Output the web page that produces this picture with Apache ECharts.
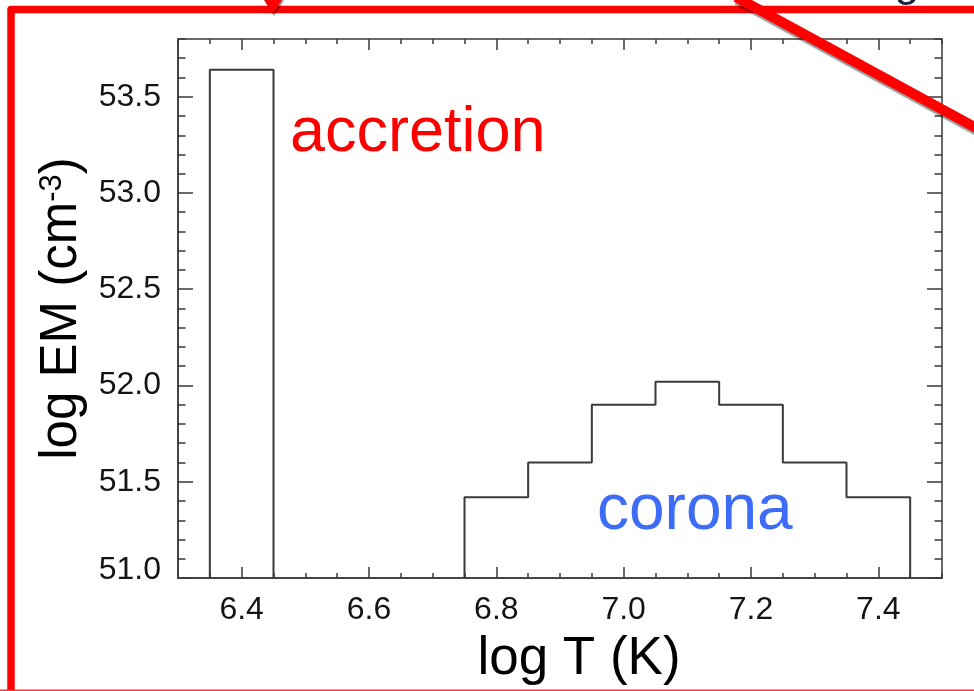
<!DOCTYPE html>
<html>
<head>
<meta charset="utf-8">
<title>log EM vs log T</title>
<script src="https://cdn.jsdelivr.net/npm/echarts@6/dist/echarts.min.js"></script>
<style>
  html, body { margin: 0; padding: 0; background: #ffffff; }
  #chart { width: 974px; height: 691px; }
</style>
</head>
<body>
<div id="chart"></div>
<script>
// Axis ranges and tick labels
const tempRange = [6.3, 7.5];
const emRange = [51.0, 53.8];
const tempTicks = [6.4, 6.6, 6.8, 7.0, 7.2, 7.4];
const emTicks = [51.0, 51.5, 52.0, 52.5, 53.0, 53.5];

// Emission measure bins: edges in log T, values in log EM
const accretionEdges = [6.35, 6.45];
const accretionEM = [53.64];
const coronaEdges = [6.75, 6.85, 6.95, 7.05, 7.15, 7.25, 7.35, 7.45];
const coronaEM = [51.42, 51.60, 51.90, 52.02, 51.90, 51.60, 51.42];

const FONT = 'Liberation Sans';
const INK = '#3a3a3a';
const LABEL = '#141414';

// Turn bin edges + values into a closed-at-the-base step outline
function stepOutline(edges, values, base) {
  const pts = [[edges[0], base]];
  values.forEach((v, i) => {
    pts.push([edges[i], v]);
    pts.push([edges[i + 1], v]);
  });
  pts.push([edges[edges.length - 1], base]);
  return pts;
}

const chart = echarts.init(document.getElementById('chart'), null, { renderer: 'canvas' });

function tickAxis(extra) {
  return Object.assign({
    type: 'value',
    gridIndex: 0,
    splitLine: { show: false },
    axisLabel: { show: false },
    axisLine: { show: false },
    axisTick: { show: true, inside: true, lineStyle: { color: INK, width: 1.5 } }
  }, extra);
}

const emFmt = v => {
  const s = v.toFixed(1);
  return v === emRange[0] ? '{lo|' + s + '}' : s;
};

const option = {
  backgroundColor: '#ffffff',
  animation: false,
  grid: {
    left: 178, top: 39, width: 764, height: 543,
    show: true, borderColor: INK, borderWidth: 1.5, backgroundColor: 'transparent'
  },
  xAxis: [
    {
      type: 'value', position: 'bottom',
      min: tempRange[0], max: tempRange[1],
      splitLine: { show: false },
      axisLine: { show: true, onZero: false, lineStyle: { color: INK, width: 1.5 } },
      axisTick: { show: true, inside: true, length: 11, customValues: tempTicks, lineStyle: { color: INK, width: 1.5 } },
      axisLabel: {
        customValues: tempTicks, margin: 16,
        fontFamily: FONT, fontSize: 32, color: LABEL,
        formatter: v => v.toFixed(1)
      },
      name: 'log T (K)', nameLocation: 'middle', nameGap: 55,
      nameTextStyle: { fontFamily: FONT, fontSize: 53, color: '#000000', padding: [0, 0, 0, 38] }
    },
    tickAxis({ position: 'bottom', min: tempRange[0], max: tempRange[1], interval: 0.05,
      axisTick: { show: true, inside: true, length: 5, lineStyle: { color: INK, width: 1.5 } } }),
    tickAxis({ position: 'top', min: tempRange[0], max: tempRange[1],
      axisTick: { show: true, inside: true, length: 11, customValues: tempTicks, lineStyle: { color: INK, width: 1.5 } } }),
    tickAxis({ position: 'top', min: tempRange[0], max: tempRange[1], interval: 0.05,
      axisTick: { show: true, inside: true, length: 5, lineStyle: { color: INK, width: 1.5 } } })
  ],
  yAxis: [
    {
      type: 'value', position: 'left',
      min: emRange[0], max: emRange[1],
      splitLine: { show: false },
      axisLine: { show: true, onZero: false, lineStyle: { color: INK, width: 1.5 } },
      axisTick: { show: true, inside: true, length: 15, customValues: emTicks, lineStyle: { color: INK, width: 1.5 } },
      axisLabel: {
        customValues: emTicks, margin: 17,
        fontFamily: FONT, fontSize: 32, color: LABEL,
        formatter: emFmt,
        rich: { lo: { fontFamily: FONT, fontSize: 32, color: LABEL, padding: [0, 0, 16, 0] } }
      },
      name: '{t|log EM (cm}{s|-3}{t|)}', nameLocation: 'middle', nameGap: 90, nameRotate: 90,
      nameTextStyle: {
        rich: {
          t: { fontFamily: FONT, fontSize: 51, color: '#000000' },
          s: { fontFamily: FONT, fontSize: 31, color: '#000000', verticalAlign: 'top' }
        }
      }
    },
    tickAxis({ position: 'left', min: emRange[0], max: emRange[1], interval: 0.1,
      axisTick: { show: true, inside: true, length: 7.5, lineStyle: { color: INK, width: 1.5 } } }),
    tickAxis({ position: 'right', min: emRange[0], max: emRange[1],
      axisTick: { show: true, inside: true, length: 15, customValues: emTicks, lineStyle: { color: INK, width: 1.5 } } }),
    tickAxis({ position: 'right', min: emRange[0], max: emRange[1], interval: 0.1,
      axisTick: { show: true, inside: true, length: 7.5, lineStyle: { color: INK, width: 1.5 } } })
  ],
  series: [
    {
      name: 'accretion', type: 'line', xAxisIndex: 0, yAxisIndex: 0,
      data: stepOutline(accretionEdges, accretionEM, emRange[0]),
      showSymbol: false, silent: true, clip: false,
      lineStyle: { color: INK, width: 2 }
    },
    {
      name: 'corona', type: 'line', xAxisIndex: 0, yAxisIndex: 0,
      data: stepOutline(coronaEdges, coronaEM, emRange[0]),
      showSymbol: false, silent: true, clip: false,
      lineStyle: { color: INK, width: 2 }
    }
  ],
  graphic: [
    // component labels
    { type: 'text', left: 290, top: 134 - 31.5, z: 10,
      style: { text: 'accretion', fontFamily: FONT, fontSize: 63, fill: '#ff0000' } },
    { type: 'text', left: 597, top: 511 - 32, z: 10,
      style: { text: 'corona', fontFamily: FONT, fontSize: 64, fill: '#3d6cf6' } },
    // slide callout frame
    { type: 'text', x: 907, y: 6, z: 20,
      style: { text: 'g', fontFamily: FONT, fontSize: 45, fill: '#1a2440', align: 'center', verticalAlign: 'bottom' } },
    { type: 'polyline', z: 30,
      shape: { points: [[11, 720], [11, 9.5], [1000, 9.5]] },
      style: { stroke: '#ff0000', lineWidth: 7.5, lineJoin: 'round', fill: null } },
    { type: 'line', z: 30,
      shape: { x1: 0, y1: 690.5, x2: 974, y2: 690.5 },
      style: { stroke: '#ff3333', lineWidth: 2 } },
    { type: 'polygon', z: 31,
      shape: { points: [[263, -2], [283, -2], [273, 14]] },
      style: { fill: '#ff0000', shadowColor: 'rgba(0,0,0,0.45)', shadowOffsetX: 1, shadowOffsetY: 2, shadowBlur: 1 } },
    { type: 'line', z: 32,
      shape: { x1: 736, y1: -3, x2: 1000, y2: 141 },
      style: { stroke: '#ff0000', lineWidth: 10, shadowColor: 'rgba(0,0,0,0.4)', shadowOffsetX: 1, shadowOffsetY: 3, shadowBlur: 1 } }
  ]
};

chart.setOption(option);
</script>
</body>
</html>
